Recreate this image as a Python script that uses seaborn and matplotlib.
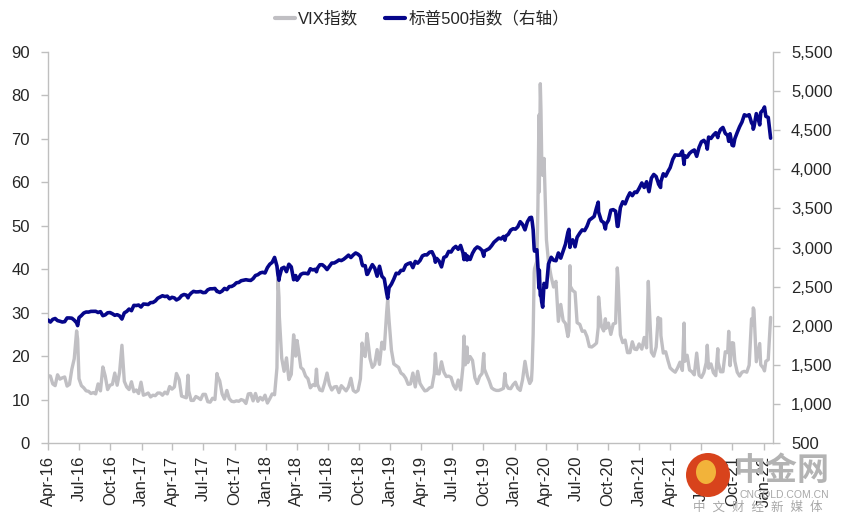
import matplotlib
matplotlib.use("Agg")
import matplotlib.pyplot as plt
import matplotlib.dates as mdates
from matplotlib.lines import Line2D
from matplotlib.patches import Ellipse
from matplotlib.ticker import FuncFormatter, MultipleLocator
import pandas as pd
import seaborn as sns

# weekly closes plus the big spike days
dates = [
    "2016-04-01", "2016-04-08", "2016-04-15", "2016-04-22", "2016-04-29", "2016-05-06", "2016-05-13",
    "2016-05-20", "2016-05-27", "2016-06-03", "2016-06-10", "2016-06-17", "2016-06-24", "2016-06-27",
    "2016-07-01", "2016-07-08", "2016-07-15", "2016-07-22", "2016-07-29", "2016-08-05", "2016-08-12",
    "2016-08-19", "2016-08-26", "2016-09-02", "2016-09-09", "2016-09-16", "2016-09-23", "2016-09-30",
    "2016-10-07", "2016-10-14", "2016-10-21", "2016-10-28", "2016-11-04", "2016-11-11", "2016-11-18",
    "2016-11-25", "2016-12-02", "2016-12-09", "2016-12-16", "2016-12-23", "2016-12-30",
    "2017-01-06", "2017-01-13", "2017-01-20", "2017-01-27", "2017-02-03", "2017-02-10", "2017-02-17",
    "2017-02-24", "2017-03-03", "2017-03-10", "2017-03-17", "2017-03-24", "2017-03-31", "2017-04-07",
    "2017-04-13", "2017-04-21", "2017-04-28", "2017-05-05", "2017-05-12", "2017-05-17", "2017-05-19",
    "2017-05-26", "2017-06-02", "2017-06-09", "2017-06-16", "2017-06-23", "2017-06-30", "2017-07-07",
    "2017-07-14", "2017-07-21", "2017-07-28", "2017-08-04", "2017-08-10", "2017-08-11", "2017-08-18",
    "2017-08-25", "2017-09-01", "2017-09-08", "2017-09-15", "2017-09-22", "2017-09-29", "2017-10-06",
    "2017-10-13", "2017-10-20", "2017-10-27", "2017-11-03", "2017-11-10", "2017-11-17", "2017-11-24",
    "2017-12-01", "2017-12-08", "2017-12-15", "2017-12-22", "2017-12-29",
    "2018-01-05", "2018-01-12", "2018-01-19", "2018-01-26", "2018-02-02", "2018-02-05", "2018-02-08",
    "2018-02-09", "2018-02-16", "2018-02-23", "2018-03-02", "2018-03-09", "2018-03-16", "2018-03-23",
    "2018-03-29", "2018-04-02", "2018-04-06", "2018-04-13", "2018-04-20", "2018-04-27", "2018-05-04",
    "2018-05-11", "2018-05-18", "2018-05-25", "2018-05-29", "2018-06-01", "2018-06-08", "2018-06-15",
    "2018-06-22", "2018-06-29", "2018-07-06", "2018-07-13", "2018-07-20", "2018-07-27", "2018-08-03",
    "2018-08-10", "2018-08-17", "2018-08-24", "2018-08-31", "2018-09-07", "2018-09-14", "2018-09-21",
    "2018-09-28", "2018-10-05", "2018-10-10", "2018-10-12", "2018-10-19", "2018-10-24", "2018-10-26",
    "2018-11-02", "2018-11-09", "2018-11-16", "2018-11-23", "2018-11-30", "2018-12-07", "2018-12-14",
    "2018-12-21", "2018-12-24", "2018-12-28",
    "2019-01-04", "2019-01-11", "2019-01-18", "2019-01-25", "2019-02-01", "2019-02-08", "2019-02-15",
    "2019-02-22", "2019-03-01", "2019-03-08", "2019-03-15", "2019-03-22", "2019-03-29", "2019-04-05",
    "2019-04-12", "2019-04-18", "2019-04-26", "2019-05-03", "2019-05-10", "2019-05-13", "2019-05-17",
    "2019-05-24", "2019-05-31", "2019-06-07", "2019-06-14", "2019-06-21", "2019-06-28", "2019-07-05",
    "2019-07-12", "2019-07-19", "2019-07-26", "2019-08-02", "2019-08-05", "2019-08-09", "2019-08-14",
    "2019-08-16", "2019-08-23", "2019-08-30", "2019-09-06", "2019-09-13", "2019-09-20", "2019-09-27",
    "2019-10-02", "2019-10-04", "2019-10-11", "2019-10-18", "2019-10-25", "2019-11-01", "2019-11-08",
    "2019-11-15", "2019-11-22", "2019-11-29", "2019-12-03", "2019-12-06", "2019-12-13", "2019-12-20",
    "2019-12-27",
    "2020-01-03", "2020-01-10", "2020-01-17", "2020-01-24", "2020-01-31", "2020-02-07", "2020-02-14",
    "2020-02-19", "2020-02-21", "2020-02-24", "2020-02-27", "2020-02-28", "2020-03-06", "2020-03-09",
    "2020-03-12", "2020-03-13", "2020-03-16", "2020-03-18", "2020-03-20", "2020-03-23", "2020-03-27",
    "2020-04-03", "2020-04-09", "2020-04-17", "2020-04-24", "2020-05-01", "2020-05-08", "2020-05-15",
    "2020-05-22", "2020-05-29", "2020-06-05", "2020-06-08", "2020-06-11", "2020-06-12", "2020-06-19",
    "2020-06-26", "2020-07-02", "2020-07-10", "2020-07-17", "2020-07-24", "2020-07-31", "2020-08-07",
    "2020-08-14", "2020-08-21", "2020-08-28", "2020-09-02", "2020-09-03", "2020-09-11", "2020-09-18",
    "2020-09-23", "2020-09-25", "2020-10-02", "2020-10-09", "2020-10-16", "2020-10-23", "2020-10-28",
    "2020-10-30", "2020-11-06", "2020-11-13", "2020-11-20", "2020-11-27", "2020-12-04", "2020-12-11",
    "2020-12-18", "2020-12-24", "2020-12-31",
    "2021-01-08", "2021-01-15", "2021-01-22", "2021-01-27", "2021-01-29", "2021-02-05", "2021-02-12",
    "2021-02-19", "2021-02-25", "2021-02-26", "2021-03-04", "2021-03-05", "2021-03-12", "2021-03-19",
    "2021-03-26", "2021-04-01", "2021-04-09", "2021-04-16", "2021-04-23", "2021-04-30", "2021-05-07",
    "2021-05-12", "2021-05-14", "2021-05-21", "2021-05-28", "2021-06-04", "2021-06-11", "2021-06-18",
    "2021-06-25", "2021-07-02", "2021-07-09", "2021-07-16", "2021-07-19", "2021-07-23", "2021-07-30",
    "2021-08-06", "2021-08-13", "2021-08-19", "2021-08-20", "2021-08-27", "2021-09-03", "2021-09-10",
    "2021-09-17", "2021-09-20", "2021-09-24", "2021-09-30", "2021-10-04", "2021-10-08", "2021-10-15",
    "2021-10-22", "2021-10-29", "2021-11-05", "2021-11-12", "2021-11-19", "2021-11-26", "2021-11-30",
    "2021-12-01", "2021-12-03", "2021-12-10", "2021-12-17", "2021-12-20", "2021-12-23", "2021-12-31",
    "2022-01-03", "2022-01-07", "2022-01-14", "2022-01-21",
]

vix = [
    15.5, 15.4, 13.6, 13.2, 15.7, 14.7, 15.0, 15.2, 13.1, 13.5, 17.0, 19.4, 25.8, 23.9,
    14.8, 13.2, 12.7, 12.0, 11.9, 11.4, 11.6, 11.3, 13.6, 12.0, 17.5, 15.4, 12.3, 13.3,
    13.5, 16.1, 13.3, 16.2, 22.5, 14.2, 12.9, 12.3, 14.1, 11.8, 12.2, 11.4, 14.0,
    11.0, 11.2, 11.5, 10.6, 11.0, 10.9, 11.5, 11.5, 11.0, 11.7, 11.3, 13.0, 12.4, 12.9,
    16.0, 14.6, 10.8, 10.6, 10.4, 15.6, 12.0, 9.8, 9.8, 10.7, 10.4, 10.0, 11.2, 11.2,
    9.5, 9.4, 10.3, 10.0, 16.0, 15.5, 14.3, 11.3, 10.1, 12.1, 10.2, 9.6, 9.5, 9.7,
    9.6, 10.0, 9.8, 9.1, 11.3, 11.4, 9.7, 11.4, 9.6, 10.5, 9.9, 11.0,
    9.2, 10.2, 11.3, 11.1, 17.3, 37.8, 33.5, 29.1, 19.5, 16.5, 19.6, 14.6, 15.8, 24.9,
    20.0, 23.6, 21.5, 17.4, 16.9, 15.4, 14.8, 12.7, 13.4, 13.2, 17.0, 13.5, 12.2, 12.0,
    13.8, 16.1, 13.4, 12.2, 12.9, 13.0, 11.6, 13.2, 12.6, 12.0, 12.9, 14.9, 12.1, 11.7,
    12.1, 14.8, 23.0, 21.3, 19.9, 25.2, 24.2, 19.5, 17.4, 18.1, 21.5, 18.1, 23.2, 21.6,
    30.1, 33.0, 28.3,
    21.4, 18.2, 17.8, 17.4, 16.1, 15.7, 14.9, 13.5, 13.6, 16.1, 12.9, 16.5, 13.7, 12.8,
    12.0, 12.1, 12.7, 12.9, 16.0, 20.6, 16.0, 15.9, 18.7, 16.3, 15.3, 15.4, 15.1, 13.3,
    12.4, 14.5, 12.2, 17.6, 24.6, 18.0, 22.1, 18.5, 19.9, 19.0, 15.0, 13.7, 15.3, 16.0,
    20.6, 17.0, 15.6, 14.3, 12.7, 12.3, 12.1, 12.1, 12.3, 12.6, 16.0, 13.6, 12.6, 12.5,
    13.4,
    14.0, 12.6, 12.1, 14.6, 18.8, 15.5, 13.7, 14.4, 17.1, 25.0, 39.2, 40.1, 41.9, 54.5,
    75.5, 57.8, 82.7, 76.5, 66.0, 61.6, 65.5, 46.8, 41.7, 38.2, 35.9, 37.2, 28.0, 31.9,
    28.2, 27.5, 24.5, 25.8, 40.8, 36.1, 35.1, 34.7, 27.7, 27.3, 25.7, 25.8, 24.5, 22.2,
    22.1, 22.5, 23.0, 26.6, 33.6, 26.9, 25.8, 28.6, 26.4, 27.6, 25.0, 27.4, 27.6, 40.3,
    38.0, 24.9, 23.1, 23.7, 20.8, 20.8, 23.3, 21.6, 21.5, 22.8,
    21.6, 24.3, 21.9, 37.2, 33.1, 20.9, 20.0, 22.1, 28.9, 28.0, 28.6, 24.7, 20.7, 21.0,
    18.9, 17.3, 16.7, 16.3, 17.3, 18.6, 16.7, 27.6, 18.8, 20.2, 16.8, 16.4, 15.7, 20.7,
    15.6, 15.1, 16.2, 18.5, 22.5, 17.2, 18.2, 16.2, 15.5, 21.7, 18.6, 16.4, 16.4, 21.0,
    20.8, 25.7, 17.8, 23.1, 23.0, 18.8, 16.3, 15.4, 16.3, 16.5, 16.3, 17.9, 28.6, 27.2,
    31.1, 30.7, 18.7, 21.6, 22.9, 18.0, 17.2,
    16.6, 18.8, 19.2, 28.9,
]

spx = [
    2073, 2047, 2081, 2092, 2065, 2057, 2047, 2052, 2099, 2099, 2096, 2071, 2037, 2001,
    2103, 2130, 2162, 2175, 2174, 2183, 2184, 2184, 2169, 2180, 2128, 2139, 2165, 2168,
    2153, 2133, 2141, 2126, 2085, 2164, 2182, 2213, 2192, 2260, 2258, 2264, 2239,
    2277, 2275, 2271, 2295, 2297, 2316, 2351, 2367, 2383, 2373, 2378, 2344, 2363, 2355,
    2329, 2348, 2384, 2399, 2391, 2357, 2382, 2416, 2439, 2432, 2433, 2438, 2423, 2425,
    2459, 2472, 2472, 2476, 2438, 2441, 2425, 2443, 2477, 2461, 2500, 2502, 2519, 2549,
    2553, 2575, 2581, 2588, 2582, 2579, 2602, 2642, 2652, 2675, 2683, 2674,
    2743, 2786, 2810, 2873, 2762, 2649, 2581, 2620, 2732, 2747, 2691, 2786, 2752, 2588,
    2641, 2582, 2604, 2656, 2670, 2670, 2663, 2728, 2713, 2721, 2690, 2735, 2779, 2780,
    2755, 2718, 2760, 2801, 2802, 2819, 2840, 2833, 2850, 2875, 2902, 2872, 2905, 2930,
    2914, 2886, 2786, 2767, 2768, 2656, 2659, 2723, 2781, 2736, 2633, 2760, 2633, 2600,
    2417, 2351, 2486,
    2532, 2596, 2671, 2665, 2707, 2708, 2776, 2793, 2804, 2743, 2822, 2800, 2834, 2893,
    2907, 2905, 2940, 2946, 2881, 2812, 2860, 2826, 2752, 2873, 2887, 2950, 2942, 2990,
    3014, 2977, 3026, 2932, 2845, 2919, 2840, 2889, 2847, 2926, 2979, 3007, 2992, 2962,
    2888, 2952, 2970, 2986, 3023, 3067, 3093, 3120, 3110, 3141, 3093, 3146, 3169, 3221,
    3240,
    3235, 3265, 3330, 3295, 3226, 3328, 3380, 3386, 3338, 3226, 2979, 2954, 2972, 2747,
    2481, 2711, 2386, 2398, 2305, 2237, 2541, 2489, 2790, 2875, 2837, 2831, 2930, 2864,
    2955, 3044, 3194, 3232, 3002, 3041, 3098, 3009, 3130, 3185, 3225, 3216, 3271, 3351,
    3373, 3397, 3508, 3580, 3455, 3341, 3319, 3237, 3298, 3348, 3477, 3484, 3465, 3271,
    3270, 3510, 3585, 3558, 3638, 3699, 3663, 3709, 3703, 3756,
    3825, 3768, 3841, 3751, 3714, 3887, 3934, 3907, 3829, 3811, 3768, 3842, 3943, 3913,
    3975, 4020, 4129, 4185, 4180, 4181, 4233, 4063, 4174, 4156, 4204, 4230, 4247, 4166,
    4281, 4352, 4370, 4327, 4258, 4412, 4395, 4437, 4468, 4406, 4442, 4509, 4535, 4459,
    4433, 4358, 4455, 4308, 4300, 4391, 4471, 4545, 4605, 4697, 4683, 4698, 4595, 4567,
    4513, 4538, 4712, 4621, 4568, 4726, 4766,
    4797, 4677, 4663, 4398,
]

vix_label = "VIX指数"
spx_label = "标普500指数（右轴）"
vix_color = "#c0bfc3"
spx_color = "#06068a"

df = pd.DataFrame({"date": pd.to_datetime(dates), "vix": vix, "spx": spx})

sns.set_theme(style="white")
plt.rcParams["font.family"] = ["Liberation Sans", "Noto Sans CJK SC", "DejaVu Sans"]

fig = plt.figure(figsize=(8.44, 5.27), dpi=100)
ax = fig.add_axes([48 / 844, 84 / 527, 725 / 844, 391 / 527])
ax2 = ax.twinx()

sns.lineplot(data=df, x="date", y="vix", ax=ax, color=vix_color, linewidth=2.4)
sns.lineplot(data=df, x="date", y="spx", ax=ax2, color=spx_color, linewidth=2.6)

ax.set_xlim(pd.Timestamp("2016-04-01"), pd.Timestamp("2022-01-28"))
ax.set_ylim(0, 90)
ax2.set_ylim(500, 5500)
ax.yaxis.set_major_locator(MultipleLocator(10))
ax2.yaxis.set_major_locator(MultipleLocator(500))
ax2.yaxis.set_major_formatter(FuncFormatter(lambda v, p: f"{v:,.0f}"))

ax.xaxis.set_major_locator(mdates.MonthLocator(bymonth=[1, 4, 7, 10]))
ax.xaxis.set_major_formatter(mdates.DateFormatter("%b-%y"))
for lab in ax.get_xticklabels():
    lab.set_rotation(90)

for a in (ax, ax2):
    a.set_xlabel("")
    a.set_ylabel("")
    a.grid(False)
    for side, sp in a.spines.items():
        sp.set_color("#bfbfbf")
        sp.set_linewidth(1.0)
    a.spines["top"].set_visible(False)
    a.tick_params(colors="#bfbfbf", labelcolor="#262626", labelsize=12, length=5, width=1)
ax.spines["right"].set_visible(False)
ax2.spines["left"].set_visible(False)
ax2.spines["bottom"].set_visible(False)
ax.tick_params(axis="y", left=True, direction="out", pad=8)
ax.tick_params(axis="x", bottom=True, direction="out", pad=4)
ax2.tick_params(axis="y", right=True, direction="out", pad=8)

handles = [Line2D([], [], color=vix_color, linewidth=3),
           Line2D([], [], color=spx_color, linewidth=3)]
fig.legend(handles, [vix_label, spx_label], loc="center", bbox_to_anchor=(0.5, 0.965),
           ncol=2, frameon=False, fontsize=12, handlelength=1.2, handletextpad=0.2,
           columnspacing=1.6)

# watermark (logo + site name) in the lower right corner
fig.patches.append(Ellipse((708 / 844, 1 - 475 / 527), 44 / 844, 44 / 527,
                           transform=fig.transFigure, facecolor="#d8431c",
                           edgecolor="none", zorder=10))
fig.patches.append(Ellipse((706 / 844, 1 - 472 / 527), 20 / 844, 24 / 527,
                           transform=fig.transFigure, facecolor="#f2b33a",
                           edgecolor="none", zorder=11))
fig.text(781 / 844, 1 - 472 / 527, "中金网", fontsize=23, fontweight="bold", color="#b3b3b3",
         ha="center", va="center", zorder=12)
fig.text(784 / 844, 1 - 495 / 527, "CNGOLD.COM.CN", fontsize=7.5, color="#a8a8a8",
         ha="center", va="center", zorder=12)
fig.text(758 / 844, 1 - 508 / 527, "中  文  财  经  新  媒  体", fontsize=9, color="#a8a8a8",
         ha="center", va="center", zorder=12)

fig.savefig("out.png", dpi=100)
